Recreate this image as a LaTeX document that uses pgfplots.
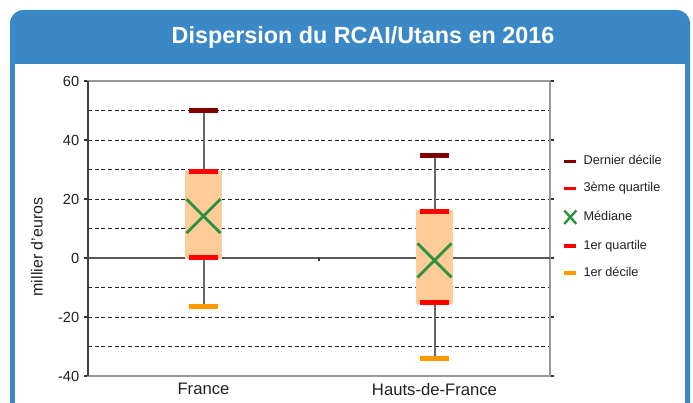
\documentclass[border=0pt]{standalone}
\usepackage{pgfplots}
\pgfplotsset{compat=1.18}
\usepackage{fontspec}
\setmainfont{Liberation Sans}
\definecolor{frameblue}{HTML}{3A88C6}
\definecolor{peach}{HTML}{FFCC99}
\definecolor{dred}{HTML}{800000}
\definecolor{bred}{HTML}{FF0000}
\definecolor{mgreen}{HTML}{2B9340}
\definecolor{morange}{HTML}{FF9900}
\definecolor{txt}{HTML}{222222}
\begin{document}
\begin{tikzpicture}[x=0.75pt,y=0.75pt]
\useasboundingbox (0,0) rectangle (693,403);
\fill[frameblue, rounded corners=10pt] (10,-30) rectangle (690,393);
\fill[white] (15,-30) rectangle (685,339);
\node[white, font=\fontsize{17.5}{20}\selectfont\bfseries] at (363,366) {Dispersion du RCAI/Utans en 2016};
\node[txt, rotate=90, font=\fontsize{12}{14}\selectfont] at (37,156) {millier d'euros};
\begin{axis}[
  at={(66pt,20.25pt)}, anchor=south west, scale only axis,
  width=346.5pt, height=221.25pt,
  xmin=0, xmax=2, ymin=-40, ymax=60,
  xtick={0.5,1.5}, xticklabels={France,Hauts-de-France},
  xtick style={draw=none},
  ytick={-40,-20,0,20,40,60},
  minor ytick={-30,-10,10,30,50},
  ymajorgrids, yminorgrids,
  major grid style={black!85, dash pattern=on 3pt off 2pt, line width=0.6pt},
  minor grid style={black!85, dash pattern=on 3pt off 2pt, line width=0.6pt},
  minor tick length=0pt,
  major tick length=3pt,
  tick align=outside,
  ytick style={black!80, line width=0.8pt},
  axis line style={draw=gray!80, line width=0.8pt},
  tick label style={txt},
  yticklabel style={font=\fontsize{11}{13}\selectfont},
  xticklabel style={font=\fontsize{12.5}{14}\selectfont, yshift=1pt},
  /pgf/number format/assume math mode=true,
  clip=false,
  legend style={at={(1.026,0.749)}, anchor=north west, draw=none, fill=none,
    font=\fontsize{9.5}{11}\selectfont, text=txt, inner sep=0pt,
    row sep=11.25pt, column sep=4pt,
    nodes={inner sep=0pt, text height=7pt, text depth=2pt, anchor=west}},
  legend cell align=left,
]
\draw[black!65, line width=1.2pt] (axis cs:0,0) -- (axis cs:2,0);
\draw[black!75, line width=1.1pt] (axis cs:0,-40) -- (axis cs:0,60);
\draw[black!80, line width=0.8pt] (axis cs:1,0) -- (axis cs:1,-0.9);
% whiskers
\addplot[forget plot, draw=black!60, line width=1.5pt] coordinates {(0.5,-16.5) (0.5,50)};
\addplot[forget plot, draw=black!60, line width=1.5pt] coordinates {(1.5,-34) (1.5,34.8)};
% boxes
\addplot[forget plot, fill=peach, draw=none] coordinates {(0.418,-0.3) (0.582,-0.3) (0.582,29.6) (0.418,29.6)} -- cycle;
\addplot[forget plot, fill=peach, draw=none] coordinates {(1.418,-15.5) (1.582,-15.5) (1.582,16.2) (1.418,16.2)} -- cycle;
% markers
\addplot[only marks, mark=-, mark size=10.9pt, dred, line width=3.75pt,
  legend image code/.code={\draw[dred, line width=2.6pt] (0pt,0pt) -- (9pt,0pt);}]
  coordinates {(0.5,50) (1.5,34.8)};
\addlegendentry{Dernier décile}
\addplot[only marks, mark=-, mark size=10.9pt, bred, line width=3.75pt,
  legend image code/.code={\draw[bred, line width=2.6pt] (0pt,0pt) -- (9pt,0pt);}]
  coordinates {(0.5,29.4) (1.5,15.9)};
\addlegendentry{3ème quartile}
\addplot[only marks, mark=x, mark size=18pt, mgreen, line width=2.2pt,
  legend image code/.code={\draw[mgreen, line width=1.8pt] (0pt,-5pt) -- (9pt,5pt) (0pt,5pt) -- (9pt,-5pt);}]
  coordinates {(0.5,14.2) (1.5,-0.8)};
\addlegendentry{Médiane}
\addplot[only marks, mark=-, mark size=10.9pt, bred, line width=3.75pt,
  legend image code/.code={\draw[bred, line width=3pt] (0pt,0pt) -- (9pt,0pt);}]
  coordinates {(0.5,0) (1.5,-15.2)};
\addlegendentry{1er quartile}
\addplot[only marks, mark=-, mark size=10.9pt, morange, line width=3.75pt,
  legend image code/.code={\draw[morange, line width=3pt] (0pt,0pt) -- (9pt,0pt);}]
  coordinates {(0.5,-16.5) (1.5,-34)};
\addlegendentry{1er décile}
\end{axis}
\end{tikzpicture}
\end{document}
